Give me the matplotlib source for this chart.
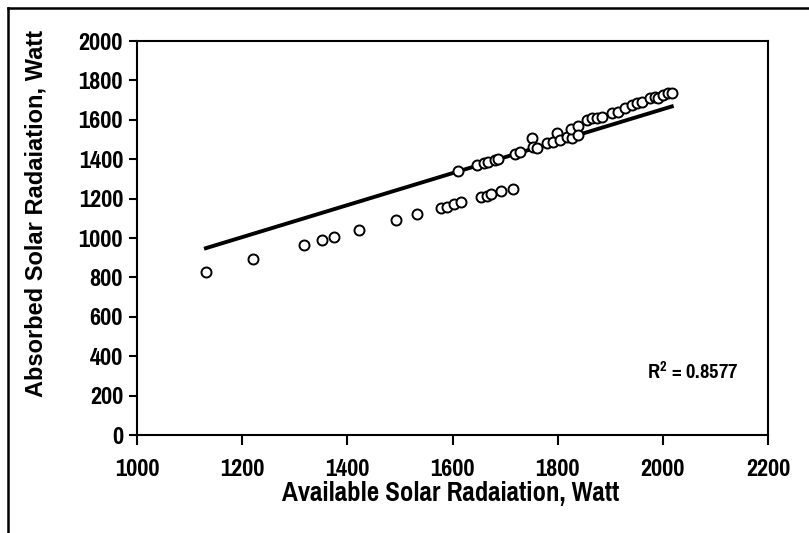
import matplotlib
matplotlib.use("Agg")
import matplotlib.pyplot as plt
from matplotlib.lines import Line2D
import numpy as np

# Data
available = [1131, 1221, 1318, 1352, 1375, 1422, 1493, 1532, 1579, 1590, 1603, 1617,
             1655, 1665, 1674, 1693, 1716,
             1611, 1646, 1659, 1668, 1681, 1687, 1719, 1729, 1751, 1754, 1760,
             1779, 1792, 1798, 1804, 1817, 1827, 1826, 1838, 1839,
             1855, 1865, 1874, 1884, 1903, 1915, 1928, 1941, 1950,
             1960, 1976, 1985, 1991, 2001, 2010, 2017]
absorbed = [829, 893, 964, 988, 1007, 1039, 1091, 1122, 1151, 1159, 1171, 1181,
            1210, 1214, 1225, 1239, 1249,
            1342, 1371, 1383, 1388, 1396, 1400, 1426, 1438, 1506, 1463, 1455,
            1481, 1489, 1535, 1497, 1514, 1506, 1555, 1568, 1523,
            1599, 1607, 1607, 1616, 1633, 1641, 1658, 1675, 1684,
            1692, 1709, 1717, 1709, 1726, 1734, 1738]

trend_slope = 0.812
trend_intercept = 30.0
r2_label = r"R$^{2}$ = 0.8577"

x_ticks = [1000, 1200, 1400, 1600, 1800, 2000, 2200]
y_ticks = [0, 200, 400, 600, 800, 1000, 1200, 1400, 1600, 1800, 2000]

x_label = "Available Solar Radaiation, Watt"
y_label = "Absorbed Solar Radaiation, Watt"

narrow = ["Pragati Narrow", "Roboto Condensed", "DejaVu Sans"]
wide = ["Liberation Sans", "DejaVu Sans"]

plt.rcParams["mathtext.fontset"] = "custom"
plt.rcParams["mathtext.rm"] = "Pragati Narrow:bold"
plt.rcParams["mathtext.it"] = "Pragati Narrow:bold"
plt.rcParams["mathtext.bf"] = "Pragati Narrow:bold"

W, H = 809, 533
fig = plt.figure(figsize=(W / 100, H / 100), dpi=100)
ax = fig.add_axes([137 / W, 1 - 435 / H, (768 - 137) / W, (435 - 41) / H])

ax.scatter(available, absorbed, s=52, facecolors="white", edgecolors="black",
           linewidths=1.4, zorder=3)

tx = np.array([min(available), max(available)])
ax.plot(tx, trend_slope * tx + trend_intercept, color="black", lw=2.8, zorder=2)

ax.set_xlim(1000, 2200)
ax.set_ylim(0, 2000)
ax.set_xticks(x_ticks)
ax.set_yticks(y_ticks)
ax.set_xticklabels([str(v) for v in x_ticks], fontfamily=narrow, fontweight="bold", fontsize=19)
ax.set_yticklabels([str(v) for v in y_ticks], fontfamily=narrow, fontweight="bold", fontsize=19)
ax.tick_params(axis="x", direction="out", length=7, width=1.5, pad=10)
ax.tick_params(axis="y", direction="out", length=6, width=1.5, pad=4)

for sp in ax.spines.values():
    sp.set_linewidth(1.5)
    sp.set_color("black")

fig.text(451 / W, 1 - 494 / H, x_label, fontfamily=narrow, fontweight="bold", fontsize=21,
         ha="center", va="center")
fig.text(36 / W, 1 - 213 / H, y_label, fontfamily=wide, fontweight="bold", fontsize=17,
         ha="center", va="center", rotation=90)

ax.text(2057, 320, r2_label, fontfamily=narrow, fontweight="bold", fontsize=16,
        ha="center", va="center")

# outer chart border (top and left visible)
fig.add_artist(Line2D([8 / W, 1.0], [1 - 8 / H, 1 - 8 / H], transform=fig.transFigure,
                      color="black", lw=1.8))
fig.add_artist(Line2D([8 / W, 8 / W], [0.0, 1 - 8 / H], transform=fig.transFigure,
                      color="black", lw=1.8))

fig.savefig("out.png", dpi=100)
